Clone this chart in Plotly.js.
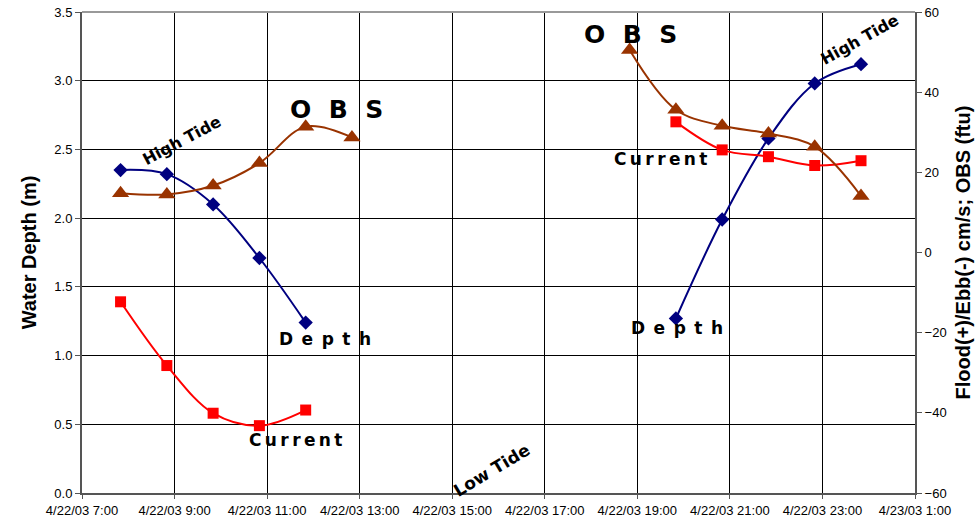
<!DOCTYPE html>
<html>
<head>
<meta charset="utf-8">
<script src="https://cdn.plot.ly/plotly-3.0.1.min.js"></script>
<style>html,body{margin:0;padding:0;background:#fff;}#chart{width:977px;height:524px;}</style>
</head>
<body>
<div id="chart"></div>
<script>
// Depth (left axis, m)
const depthTimesA = ['2003-04-22 07:50','2003-04-22 08:50','2003-04-22 09:50','2003-04-22 10:50','2003-04-22 11:50'];
const depthA = [2.35, 2.32, 2.10, 1.71, 1.24];
const depthTimesB = ['2003-04-22 19:50','2003-04-22 20:50','2003-04-22 21:50','2003-04-22 22:50','2003-04-22 23:50'];
const depthB = [1.27, 1.99, 2.58, 2.98, 3.12];

// Current (right axis, cm/s)
const currentTimesA = ['2003-04-22 07:50','2003-04-22 08:50','2003-04-22 09:50','2003-04-22 10:50','2003-04-22 11:50'];
const currentA = [-12.3, -28.2, -40.1, -43.2, -39.3];
const currentTimesB = ['2003-04-22 19:50','2003-04-22 20:50','2003-04-22 21:50','2003-04-22 22:50','2003-04-22 23:50'];
const currentB = [32.6, 25.6, 23.9, 21.7, 22.9];

// OBS (right axis, ftu)
const obsTimesA = ['2003-04-22 07:50','2003-04-22 08:50','2003-04-22 09:50','2003-04-22 10:50','2003-04-22 11:50','2003-04-22 12:50'];
const obsA = [14.8, 14.5, 16.7, 22.3, 31.4, 28.7];
const obsTimesB = ['2003-04-22 18:50','2003-04-22 19:50','2003-04-22 20:50','2003-04-22 21:50','2003-04-22 22:50','2003-04-22 23:50'];
const obsB = [50.5, 35.6, 31.6, 29.7, 26.4, 14.1];

// Axis ticks
const xTickVals = ['2003-04-22 07:00','2003-04-22 09:00','2003-04-22 11:00','2003-04-22 13:00','2003-04-22 15:00','2003-04-22 17:00','2003-04-22 19:00','2003-04-22 21:00','2003-04-22 23:00','2003-04-23 01:00'];
const xTickText = ['4/22/03 7:00','4/22/03 9:00','4/22/03 11:00','4/22/03 13:00','4/22/03 15:00','4/22/03 17:00','4/22/03 19:00','4/22/03 21:00','4/22/03 23:00','4/23/03 1:00'];
const yLeftTicks = [0, 0.5, 1.0, 1.5, 2.0, 2.5, 3.0, 3.5];
const yLeftText = ['0.0','0.5','1.0','1.5','2.0','2.5','3.0','3.5'];
const yRightTicks = [-60, -40, -20, 0, 20, 40, 60];

const depthColor = '#000080', currentColor = '#FF0000', obsColor = '#993300';

function tr(x, y, color, symbol, size, yaxis) {
  return {x: x, y: y, type: 'scatter', mode: 'lines+markers', yaxis: yaxis,
    line: {color: color, width: 2, shape: 'spline', smoothing: 1},
    marker: {color: color, symbol: symbol, size: size, line: {width: 0}},
    showlegend: false, hoverinfo: 'skip'};
}

const data = [
  tr(depthTimesA, depthA, depthColor, 'diamond', 11, 'y'),
  tr(depthTimesB, depthB, depthColor, 'diamond', 11, 'y'),
  tr(currentTimesA, currentA, currentColor, 'square', 11, 'y2'),
  tr(currentTimesB, currentB, currentColor, 'square', 11, 'y2'),
  tr(obsTimesA, obsA, obsColor, 'triangle-up', 15, 'y2'),
  tr(obsTimesB, obsB, obsColor, 'triangle-up', 15, 'y2')
];

const lblFont = (s) => ({family: 'DejaVu Sans', size: s, color: '#000', weight: 'bold'});
function ann(x, y, text, size, angle) {
  return {xref: 'paper', yref: 'paper', x: x, y: y, text: '<b>' + text + '</b>', showarrow: false,
    font: lblFont(size), textangle: angle || 0, xanchor: 'center', yanchor: 'middle'};
}
const sp = '\u2002\u2009', th = '\u2009', en = '\u2002';
const tickFont = {family: 'Liberation Sans, Arial, sans-serif', size: 13, color: '#000'};
const titleFont = {family: 'Liberation Sans, Arial, sans-serif', size: 20, color: '#000'};

const layout = {
  width: 977, height: 524,
  margin: {l: 82, r: 62, t: 12, b: 31},
  paper_bgcolor: '#fff', plot_bgcolor: '#fff',
  font: {family: 'Liberation Sans, Arial, sans-serif', size: 13, color: '#000'},
  xaxis: {type: 'date', range: ['2003-04-22 07:00', '2003-04-23 01:00'],
    tickvals: xTickVals, ticktext: xTickText, tickangle: 0,
    showgrid: true, gridcolor: '#000', gridwidth: 1,
    showline: true, linecolor: '#555', linewidth: 2,
    ticks: 'outside', ticklen: 4, tickcolor: '#555', tickfont: tickFont,
    zeroline: false},
  yaxis: {range: [0, 3.5], tickvals: yLeftTicks, ticktext: yLeftText,
    showgrid: true, gridcolor: '#000', gridwidth: 1,
    showline: true, linecolor: '#555', linewidth: 2,
    ticks: 'outside', ticklen: 5, tickcolor: '#555', tickfont: tickFont,
    zeroline: false,
    title: {text: '<b>Water Depth (m)</b>', font: titleFont, standoff: 12}},
  yaxis2: {range: [-60, 60], tickvals: yRightTicks, overlaying: 'y', side: 'right',
    showgrid: false, showline: true, linecolor: '#555', linewidth: 2,
    ticks: 'outside', ticklen: 5, tickcolor: '#555', tickfont: tickFont,
    zeroline: false,
    title: {text: '<b>Flood(+)/Ebb(-) cm/s; OBS (ftu)</b>', font: titleFont, standoff: 10}},
  shapes: [
    {type: 'line', xref: 'paper', yref: 'paper', x0: 0, x1: 1, y0: 1, y1: 1, line: {color: '#999', width: 2}, layer: 'above'}
  ],
  annotations: [
    ann(0.120, 0.732, 'High Tide', 16, -28),
    ann(0.306, 0.798, 'O' + sp + 'B' + sp + 'S', 25, 0),
    ann(0.292, 0.320, 'D' + en + 'e' + en + 'p' + en + 't' + en + 'h', 17, 0),
    ann(0.256, 0.110, 'C' + th + 'u' + th + 'r' + th + 'r' + th + 'e' + th + 'n' + th + 't', 17, 0),
    ann(0.492, 0.048, 'Low Tide', 17, -31),
    ann(0.658, 0.954, 'O' + sp + 'B' + sp + 'S', 25, 0),
    ann(0.695, 0.694, 'C' + th + 'u' + th + 'r' + th + 'r' + th + 'e' + th + 'n' + th + 't', 17, 0),
    ann(0.714, 0.343, 'D' + en + 'e' + en + 'p' + en + 't' + en + 'h', 17, 0),
    ann(0.934, 0.942, 'High Tide', 16, -29)
  ]
};

Plotly.newPlot('chart', data, layout, {displayModeBar: false, staticPlot: true});
</script>
</body>
</html>
